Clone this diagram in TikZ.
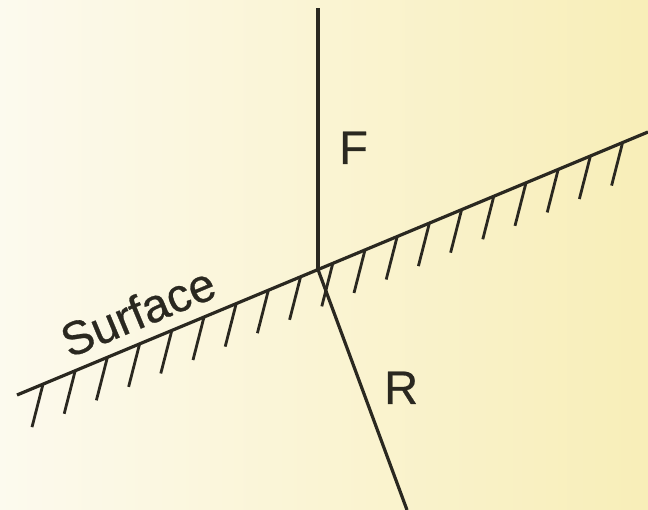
\documentclass[tikz,border=0pt]{standalone}
\usepackage{fontspec}
\setmainfont{Liberation Sans}
\usetikzlibrary{calc}
\definecolor{paperleft}{RGB}{252, 250, 238}
\definecolor{paperright}{RGB}{248, 238, 184}
\definecolor{inkdark}{RGB}{42, 40, 32}

\begin{document}
\begin{tikzpicture}[x=1pt, y=-1pt,
  lbl/.style={font=\fontsize{47}{52}\selectfont\addfontfeature{FakeBold=0.6},
    text=inkdark, inner sep=0pt}]

  % --- paper background ---
  \shade[left color=paperleft, right color=paperright] (0,0) rectangle (648,510);
  \useasboundingbox (0,0) rectangle (648,510);

  % --- surface and the two rays ---
  \coordinate (sl) at (17,395);
  \coordinate (sr) at (648,132);
  \coordinate (o) at (318,269.5);
  \coordinate (ftop) at (318,8);
  \coordinate (rbot) at (407,510);

  \draw[inkdark, line width=3.2pt] (sl) -- (sr);
  \draw[inkdark, line width=3.2pt] (o) -- (ftop);
  \draw[inkdark, line width=3.2pt] (o) -- (rbot);

  % --- hatching under the surface ---
  \foreach \k in {0,...,18}
    \draw[inkdark, line width=2.8pt]
      ($(sl)!{(26+32.2*\k)/631}!(sr)$) -- ++(-11,43);

  % --- labels ---
  \node[lbl, anchor=base west] (flabel) at (339,164) {F};
  \node[lbl, anchor=base west] (rlabel) at (384,404) {R};
  \node[lbl, inner ysep=13pt, rotate=22.6, anchor=south] (surf)
    at ($(sl)!0.21!(sr)$) {Surface};

\end{tikzpicture}
\end{document}
